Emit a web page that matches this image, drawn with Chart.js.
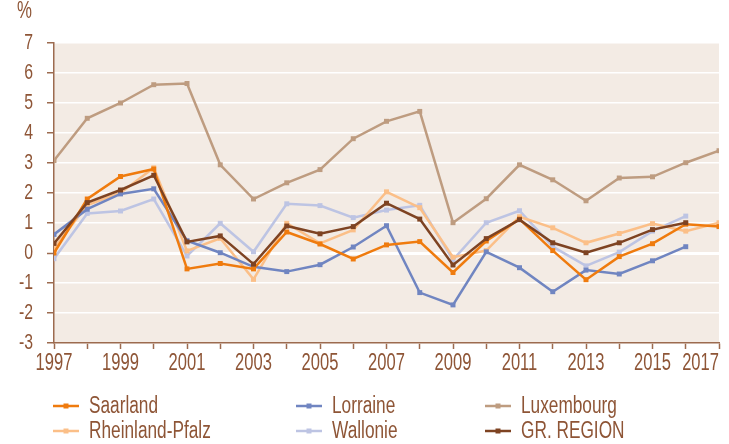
<!DOCTYPE html>
<html>
<head>
<meta charset="utf-8">
<script src="https://cdn.jsdelivr.net/npm/chart.js@4.4.1/dist/chart.umd.min.js"></script>
<style>
  html, body { margin: 0; padding: 0; background: #fff; }
  #wrap { width: 729px; height: 444px; }
</style>
</head>
<body>
<div id="wrap"><canvas id="chart" width="729" height="444"></canvas></div>
<script>
//--- Data.
const years = [1997, 1998, 1999, 2000, 2001, 2002, 2003, 2004, 2005, 2006, 2007,
  2008, 2009, 2010, 2011, 2012, 2013, 2014, 2015, 2016, 2017];
const saarland = [0.0, 1.8, 2.55, 2.8, -0.53, -0.35, -0.53, 0.7, 0.3, -0.2, 0.27,
  0.38, -0.65, 0.4, 1.13, 0.08, -0.89, -0.12, 0.31, 0.96, 0.88];
const rheinlandPfalz = [0.16, 1.6, 2.0, 2.84, 0.07, 0.49, -0.88, 0.99, 0.32, 0.77, 2.04,
  1.51, -0.14, 0.08, 1.21, 0.84, 0.34, 0.65, 0.98, 0.73, 1.01];
const lorraine = [0.62, 1.46, 1.97, 2.14, 0.41, 0.01, -0.46, -0.62, -0.39, 0.2, 0.91,
  -1.32, -1.73, 0.04, -0.49, -1.29, -0.57, -0.7, -0.26, 0.21, null];
const wallonie = [-0.19, 1.32, 1.4, 1.8, -0.1, 0.99, 0.04, 1.64, 1.58, 1.18, 1.43,
  1.59, -0.23, 1.01, 1.41, 0.21, -0.43, 0.03, 0.73, 1.23, null];
const luxembourg = [3.08, 4.49, 5.0, 5.61, 5.65, 2.94, 1.8, 2.34, 2.78, 3.81, 4.39,
  4.72, 1.01, 1.81, 2.94, 2.44, 1.74, 2.5, 2.54, 3.01, 3.41];
const grRegion = [0.32, 1.68, 2.1, 2.59, 0.37, 0.57, -0.37, 0.9, 0.64, 0.88, 1.66,
  1.13, -0.4, 0.48, 1.11, 0.34, 0.01, 0.34, 0.78, 1.01, null];
const yTicks = [-3, -2, -1, 0, 1, 2, 3, 4, 5, 6, 7];
const xLabels = [1997, 1999, 2001, 2003, 2005, 2007, 2009, 2011, 2013, 2015, 2017];

const FONT = '"Liberation Sans", Arial, sans-serif';
const TEXT = '#8E5536';
const AXIS = '#9C6B4F';
const PLOT_BG = '#F3EBE4';

// Legend layout: [label, color, column, row]
const legendItems = [
  ['Saarland', '#EF7B0E', 0, 0],
  ['Lorraine', '#7085C1', 1, 0],
  ['Luxembourg', '#BE9C80', 2, 0],
  ['Rheinland-Pfalz', '#FBBF88', 0, 1],
  ['Wallonie', '#BDC4E3', 1, 1],
  ['GR. REGION', '#7E4322', 2, 1],
];
const colors = Object.fromEntries(legendItems.map(i => [i[0], i[1]]));

function toPoints(values) {
  return years.map((yr, i) => ({ x: yr, y: values[i] }));
}

function series(label, values) {
  return {
    label,
    data: toPoints(values),
    borderColor: colors[label],
    backgroundColor: colors[label],
    pointBackgroundColor: colors[label],
    borderWidth: 2.5,
    pointStyle: 'rect',
    pointRadius: 3.5,
    pointBorderWidth: 0,
    pointHoverRadius: 3.5,
    tension: 0,
    spanGaps: false,
  };
}

// Text squeezed horizontally (condensed look), x is the anchor for the alignment.
function squeezedText(ctx, text, x, y, size, squeeze, align) {
  ctx.save();
  ctx.font = size + 'px ' + FONT;
  ctx.textAlign = align;
  ctx.textBaseline = 'middle';
  ctx.translate(x, y);
  ctx.scale(squeeze, 1);
  ctx.fillText(text, 0, 0);
  ctx.restore();
}

//--- Plot background, labels and legend.
const gdPlotDecor = {
  id: 'gdPlotDecor',
  beforeDraw(chart) {
    const { ctx, chartArea } = chart;
    ctx.save();
    ctx.fillStyle = PLOT_BG;
    ctx.fillRect(chartArea.left, chartArea.top, chartArea.right - chartArea.left, chartArea.bottom - chartArea.top);
    ctx.restore();
  },
  afterDraw(chart) {
    const { ctx, chartArea } = chart;
    const xScale = chart.scales.x;
    const yScale = chart.scales.y;
    ctx.save();
    ctx.fillStyle = TEXT;

    // Unit label.
    squeezedText(ctx, '%', 17, 12, 23, 0.73, 'left');

    // Value labels.
    yTicks.forEach(v => {
      squeezedText(ctx, String(v), 33, yScale.getPixelForValue(v) - 0.5, 22, 0.72, 'right');
    });

    // Year labels, the last one kept inside the plot width.
    const xSize = 23;
    const xSqueeze = 0.72;
    ctx.font = xSize + 'px ' + FONT;
    xLabels.forEach(yr => {
      const label = String(yr);
      const w = ctx.measureText(label).width * xSqueeze;
      let x = xScale.getPixelForValue(yr) - w / 2;
      if (x + w > chartArea.right) {
        x = chartArea.right - w;
      }
      squeezedText(ctx, label, x, chartArea.bottom + 21, xSize, xSqueeze, 'left');
    });

    // Legend.
    const colX = [53, 296, 485];
    const rowY = [406, 431];
    legendItems.forEach(([label, color, col, row]) => {
      const x = colX[col];
      const y = rowY[row];
      ctx.strokeStyle = color;
      ctx.lineWidth = 2.5;
      ctx.beginPath();
      ctx.moveTo(x, y);
      ctx.lineTo(x + 26, y);
      ctx.stroke();
      ctx.fillStyle = color;
      ctx.fillRect(x + 13 - 2.5, y - 2.5, 5, 5);
      ctx.fillStyle = TEXT;
      squeezedText(ctx, label, x + 36, y + 1, 23, 0.75, 'left');
    });
    ctx.restore();
  }
};

new Chart(document.getElementById('chart'), {
  type: 'line',
  data: {
    datasets: [
      series('GR. REGION', grRegion),
      series('Saarland', saarland),
      series('Lorraine', lorraine),
      series('Luxembourg', luxembourg),
      series('Rheinland-Pfalz', rheinlandPfalz),
      series('Wallonie', wallonie),
    ]
  },
  options: {
    responsive: false,
    animation: false,
    events: [],
    layout: {
      padding: { left: 0, right: 10, top: 43, bottom: 0 }
    },
    scales: {
      x: {
        type: 'linear',
        min: years[0],
        max: years[years.length - 1],
        afterBuildTicks: (scale) => {
          scale.ticks = years.map(v => ({ value: v }));
        },
        afterFit: (scale) => {
          scale.height = 101;
          scale.paddingLeft = 0;
          scale.paddingRight = 0;
        },
        ticks: { display: false },
        grid: {
          drawOnChartArea: false,
          drawTicks: true,
          tickLength: 6,
          tickColor: AXIS,
          tickWidth: 1.5,
        },
        border: { display: true, color: AXIS, width: 1.5 },
      },
      y: {
        min: yTicks[0],
        max: yTicks[yTicks.length - 1],
        afterBuildTicks: (scale) => {
          scale.ticks = yTicks.map(v => ({ value: v }));
        },
        afterFit: (scale) => {
          scale.width = 54;
          scale.paddingTop = 0;
          scale.paddingBottom = 0;
        },
        ticks: { display: false },
        grid: {
          color: '#FFFFFF',
          lineWidth: (ctx) => (ctx.tick && ctx.tick.value === 0 ? 3 : 1.5),
          drawTicks: true,
          tickLength: 7,
          tickColor: AXIS,
          tickWidth: 1.5,
        },
        border: { display: true, color: AXIS, width: 1.5 },
      }
    },
    plugins: {
      legend: { display: false },
      tooltip: { enabled: false },
    }
  },
  plugins: [gdPlotDecor]
});
</script>
</body>
</html>
